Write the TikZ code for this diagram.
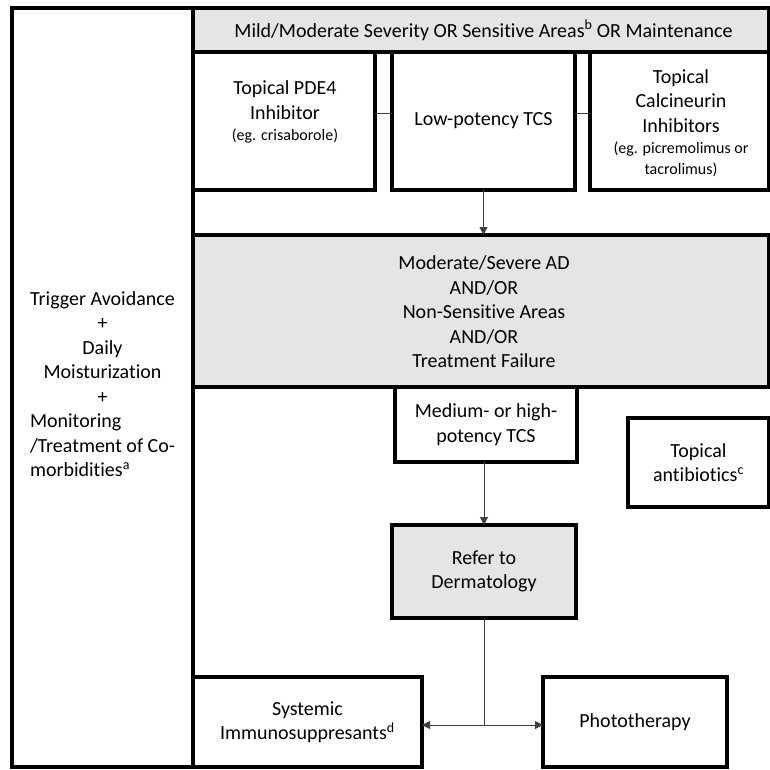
\documentclass[tikz,border=0pt]{standalone}
\usepackage{fontspec}
\setmainfont{Carlito}[RawFeature={-liga;-clig;-dlig;-calt}]
\usetikzlibrary{arrows.meta}
\begin{document}
\begin{tikzpicture}[x=1pt,y=-1pt,
  box/.style={draw, line width=3.7pt, inner sep=0pt, outer sep=0pt, align=center},
  gbox/.style={box, fill=black!10},
  txt/.style={align=center, inner sep=0pt, outer sep=0pt},
  conn/.style={draw=black!75, line width=1pt},
  arr/.style={conn, -{Triangle[length=8pt,width=8pt]}},
  darr/.style={conn, {Triangle[length=8pt,width=8pt]}-{Triangle[length=8pt,width=8pt]}},
  font=\fontsize{20pt}{24.5pt}\selectfont]
\useasboundingbox (0,0) rectangle (770,769);
\clip (0,0) rectangle (770,769);
\fill[white] (0,0) rectangle (770,769);
\newcommand{\smalltxt}[1]{{\fontsize{16pt}{21pt}\selectfont #1}}
% left column
\node[box, minimum width=181pt, minimum height=759pt] (L) at (102.5,387.5) {Trigger Avoidance\\+\\Daily\\Moisturization\\+\\\begin{tabular}[t]{@{}l@{}}Monitoring\\/Treatment of Co-\\morbidities\textsuperscript{a}\end{tabular}};
% top bar
\node[gbox, minimum width=576pt, minimum height=44pt] (T) at (481,30) {};
\node[txt] (Tt) at (483.5,30) {Mild/Moderate Severity OR Sensitive Areas\textsuperscript{b} OR Maintenance};
% row of three
\node[box, minimum width=182pt, minimum height=138pt] (B1) at (284,121) {};
\node[txt] (B1t) at (285,112) {Topical PDE4\\Inhibitor\\[-3pt]\smalltxt{(eg. crisaborole)}};
\node[box, minimum width=183pt, minimum height=138pt] (B2) at (483.5,121) {Low-potency TCS};
\node[box, minimum width=179pt, minimum height=138pt] (B3) at (679.5,121) {};
\node[txt] (B3t) at (681,123) {Topical\\Calcineurin\\Inhibitors\\[-3pt]\smalltxt{(eg. picremolimus or}\\[-3.5pt]\smalltxt{tacrolimus)}};
\draw[conn] ([yshift=8pt]B1.east) -- ([yshift=8pt]B2.west);
\draw[conn] ([yshift=8pt]B2.east) -- ([yshift=8pt]B3.west);
% moderate/severe
\node[gbox, minimum width=576pt, minimum height=152pt] (G2) at (481,311) {};
\node[txt] (G2t) at (484,312) {Moderate/Severe AD\\AND/OR\\Non-Sensitive Areas\\AND/OR\\Treatment Failure};
\draw[arr] (B2.south) -- (B2.south |- G2.north);
% medium
\node[box, minimum width=182pt, minimum height=75pt] (M) at (486,424.5) {Medium- or high-\\potency TCS};
\node[box, minimum width=141pt, minimum height=89pt] (A) at (698.5,462.5) {Topical\\antibiotics\textsuperscript{c}};
% refer
\node[gbox, minimum width=184pt, minimum height=93pt] (R) at (484,571.5) {Refer to\\Dermatology};
\draw[arr] (R.north |- M.south) -- (R.north);
% bottom
\node[box, minimum width=229pt, minimum height=90pt] (S) at (307.5,722) {Systemic\\Immunosuppresants\textsuperscript{d}};
\node[box, minimum width=184pt, minimum height=90pt] (P) at (635,722) {Phototherapy};
\coordinate (j) at (484,725);
\draw[conn] (R.south) -- (j);
\draw[darr] (j -| S.east) -- (j -| P.west);
\end{tikzpicture}
\end{document}
